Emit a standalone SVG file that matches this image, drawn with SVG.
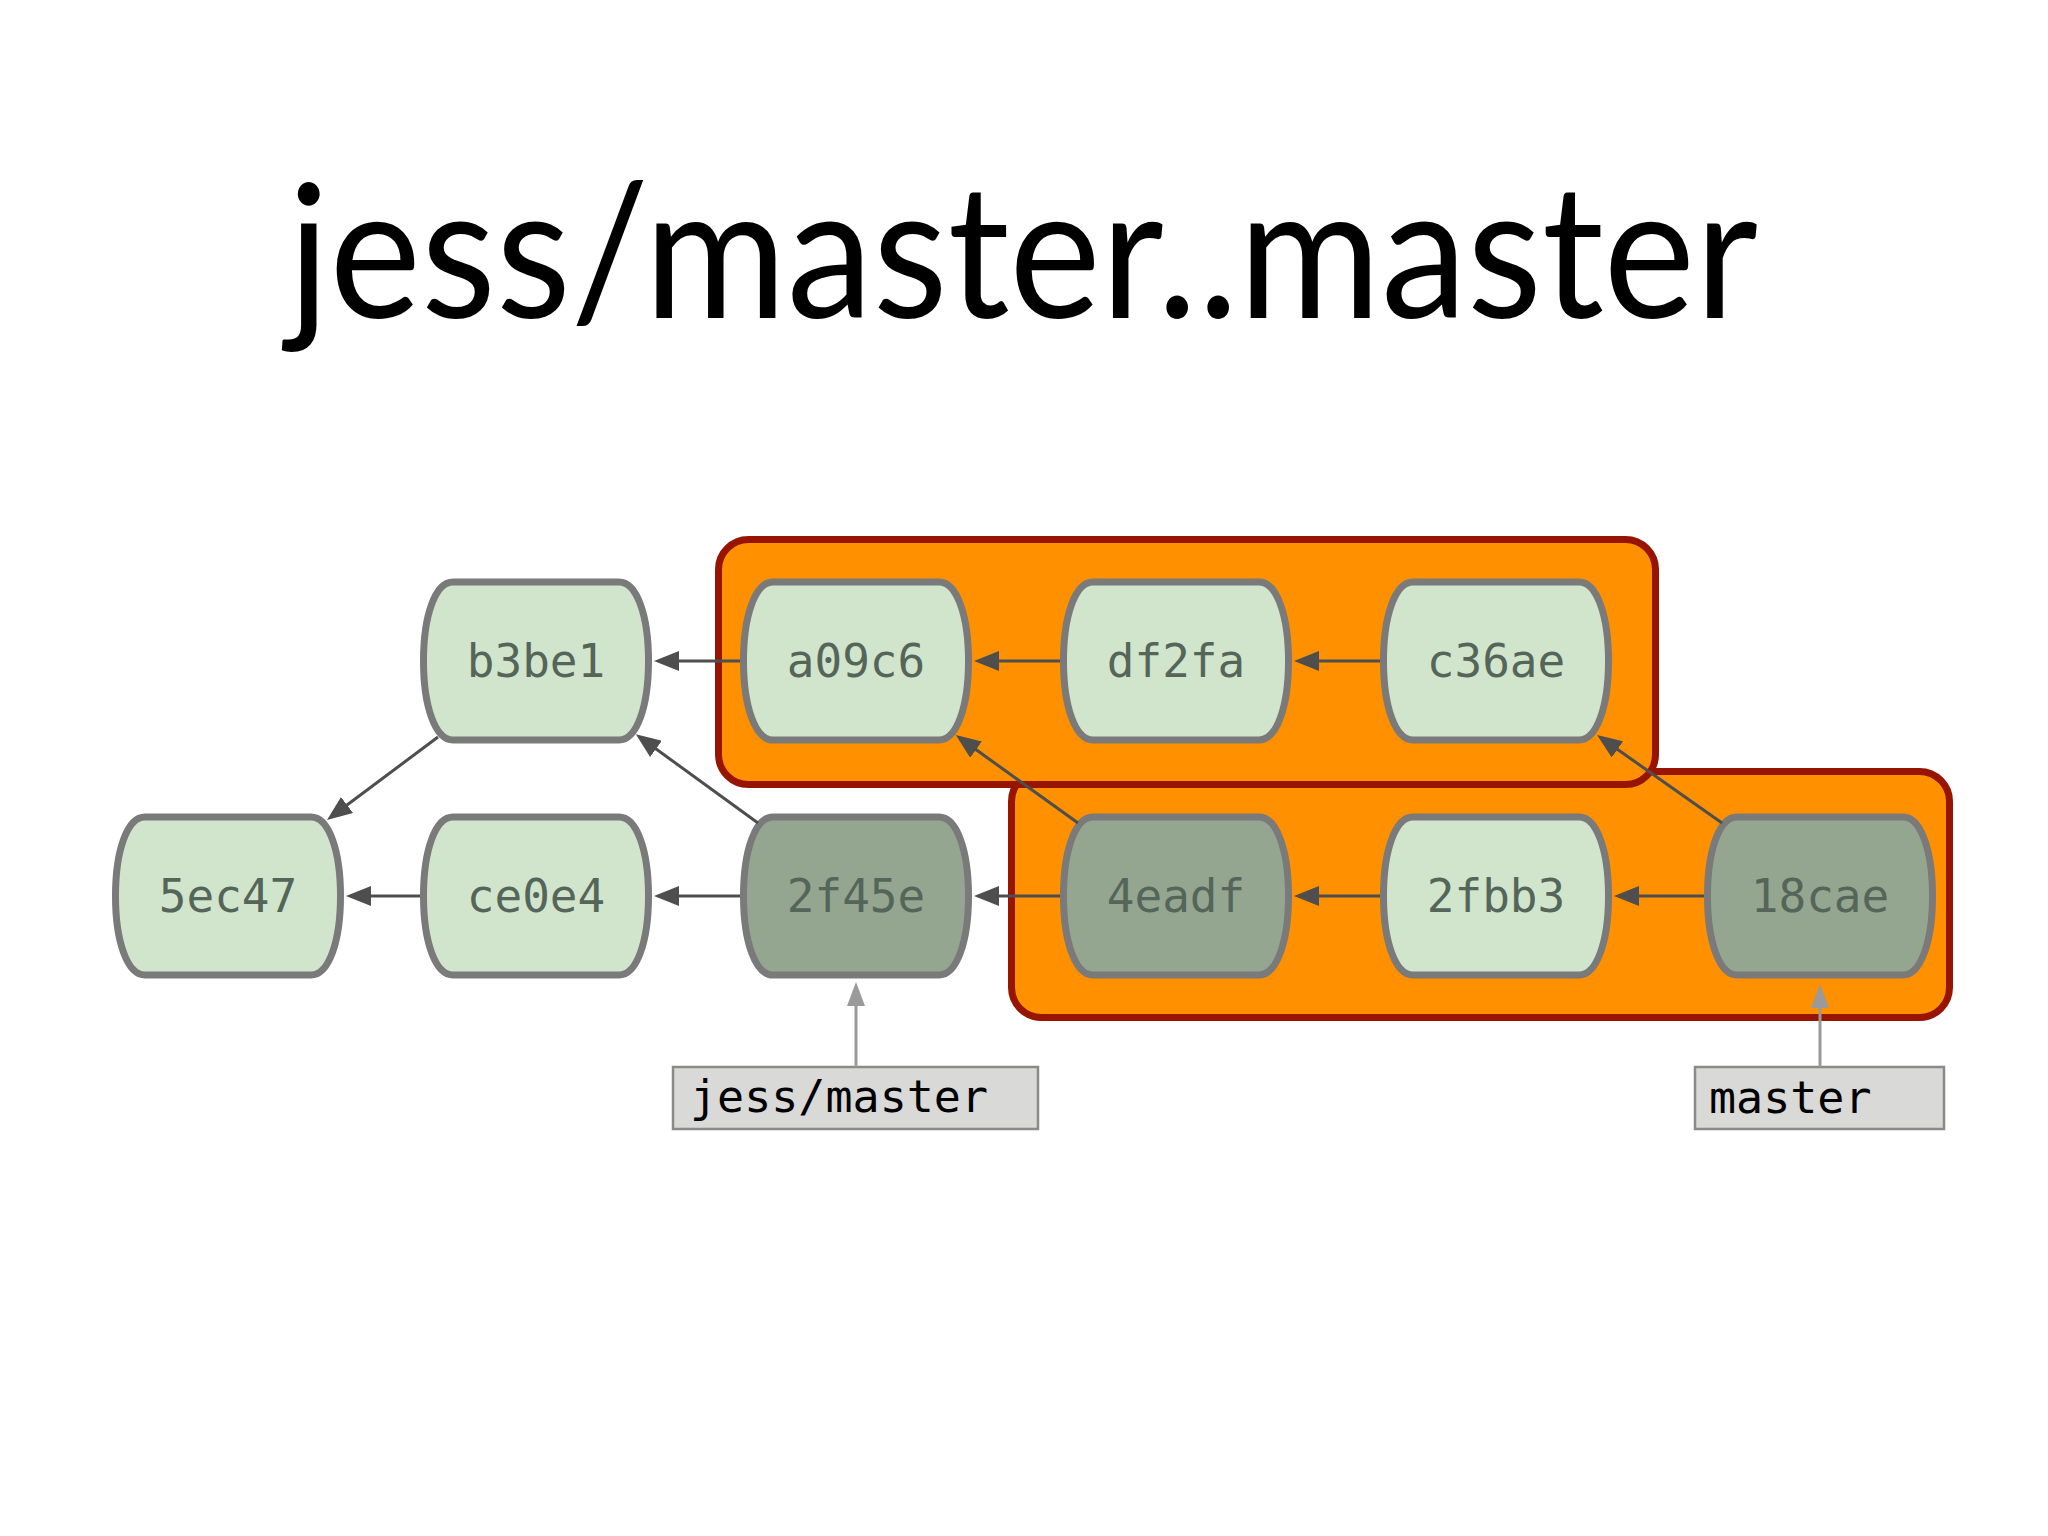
<svg xmlns="http://www.w3.org/2000/svg" width="2048" height="1536" viewBox="0 0 2048 1536">
<style>
.title{font-family:"Lato","Open Sans","DejaVu Sans",sans-serif;font-size:186px;fill:#000}
.box{fill:#ff9100;stroke:#971400;stroke-width:7}
.n{stroke:#7a7a7a;stroke-width:7}
.light{fill:#d1e5cc}
.dark{fill:#94a690}
.nt{font-family:"DejaVu Sans Mono","Liberation Mono",monospace;font-size:46px;fill:#55655a;text-anchor:middle}
.lbl{fill:#d9d9d7;stroke:#8a8a8a;stroke-width:2.5}
.lt{font-family:"DejaVu Sans Mono","Liberation Mono",monospace;font-size:45px;fill:#000}
.e{stroke:#4e4e4e;stroke-width:3;fill:none;marker-end:url(#ah)}
.r{stroke:#9a9a9a;stroke-width:3;fill:none;marker-end:url(#ahg)}
</style>
<defs>
<path id="shape" d="M -83,-79 H 83 C 101,-79 112.5,-45 112.5,0 C 112.5,45 101,79 83,79 H -83 C -101,79 -112.5,45 -112.5,0 C -112.5,-45 -101,-79 -83,-79 Z"/>
<marker id="ah" markerUnits="userSpaceOnUse" markerWidth="25" markerHeight="20" refX="5" refY="10" orient="auto" viewBox="0 0 25 20">
<path d="M0,0 L25,10 L0,20 Z" fill="#4e4e4e"/>
</marker>
<marker id="ahg" markerUnits="userSpaceOnUse" markerWidth="24" markerHeight="18" refX="5" refY="9" orient="auto" viewBox="0 0 24 18">
<path d="M0,0 L24,9 L0,18 Z" fill="#9a9a9a"/>
</marker>
</defs>
<rect width="2048" height="1536" fill="#ffffff"/>
<text class="title" x="1023" y="318" text-anchor="middle" textLength="1470" lengthAdjust="spacingAndGlyphs">jess/master..master</text>

<g id="range-master">
<rect class="box" x="1011.5" y="771.5" width="938" height="246" rx="30"/>
</g>
<g id="range-top">
<rect class="box" x="718.5" y="539.5" width="937" height="245" rx="30"/>
</g>

<g id="node-b3be1" transform="translate(536,661)"><use href="#shape" class="n light"/><text class="nt" y="16">b3be1</text></g>
<g id="node-a09c6" transform="translate(856,661)"><use href="#shape" class="n light"/><text class="nt" y="16">a09c6</text></g>
<g id="node-df2fa" transform="translate(1176,661)"><use href="#shape" class="n light"/><text class="nt" y="16">df2fa</text></g>
<g id="node-c36ae" transform="translate(1496,661)"><use href="#shape" class="n light"/><text class="nt" y="16">c36ae</text></g>
<g id="node-5ec47" transform="translate(228,896)"><use href="#shape" class="n light"/><text class="nt" y="16">5ec47</text></g>
<g id="node-ce0e4" transform="translate(536,896)"><use href="#shape" class="n light"/><text class="nt" y="16">ce0e4</text></g>
<g id="node-2f45e" transform="translate(856,896)"><use href="#shape" class="n dark"/><text class="nt" y="16">2f45e</text></g>
<g id="node-4eadf" transform="translate(1176,896)"><use href="#shape" class="n dark"/><text class="nt" y="16">4eadf</text></g>
<g id="node-2fbb3" transform="translate(1496,896)"><use href="#shape" class="n light"/><text class="nt" y="16">2fbb3</text></g>
<g id="node-18cae" transform="translate(1820,896)"><use href="#shape" class="n dark"/><text class="nt" y="16">18cae</text></g>

<g id="label-jess-master"><rect class="lbl" x="673" y="1067" width="365" height="62"/><text class="lt" x="690" y="1112">jess/master</text></g>
<g id="label-master"><rect class="lbl" x="1695" y="1067" width="249" height="62"/><text class="lt" x="1709" y="1113">master</text></g>

<g id="connectors">
<line class="e" x1="740" y1="661" x2="674" y2="661"/>
<line class="e" x1="1060" y1="661" x2="994" y2="661"/>
<line class="e" x1="1380" y1="661" x2="1314" y2="661"/>
<line class="e" x1="420" y1="896" x2="366" y2="896"/>
<line class="e" x1="740" y1="896" x2="674" y2="896"/>
<line class="e" x1="1060" y1="896" x2="994" y2="896"/>
<line class="e" x1="1380" y1="896" x2="1314" y2="896"/>
<line class="e" x1="1704" y1="896" x2="1634" y2="896"/>
<line class="e" x1="438" y1="737" x2="343" y2="808"/>
<line class="e" x1="758" y1="823" x2="652" y2="746"/>
<line class="e" x1="1078" y1="823" x2="972" y2="746.7"/>
<line class="e" x1="1722" y1="823" x2="1613.4" y2="746.5"/>
<line class="r" x1="856" y1="1067" x2="856" y2="1001"/>
<line class="r" x1="1820" y1="1067" x2="1820" y2="1003"/>
</g>
</svg>
